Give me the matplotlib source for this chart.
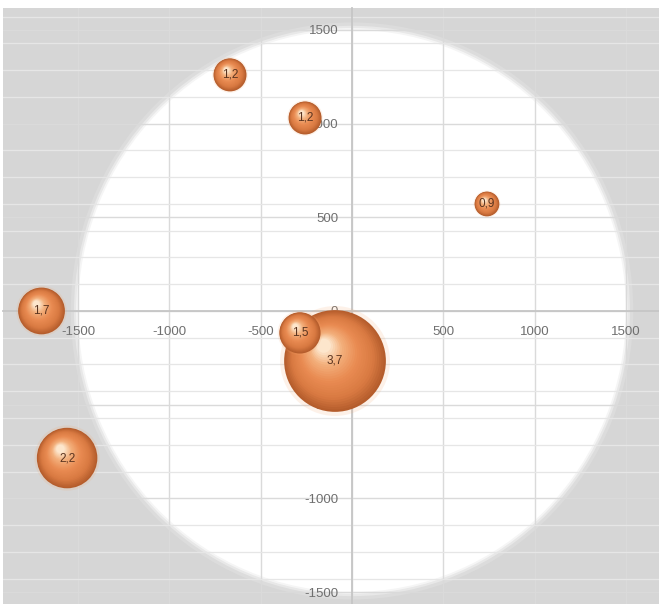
import numpy as np
import matplotlib
matplotlib.use("Agg")
import matplotlib.pyplot as plt
from matplotlib.patches import Circle
from matplotlib.transforms import ScaledTranslation
from matplotlib.colors import LinearSegmentedColormap

plt.rcParams['font.family'] = ['Liberation Sans', 'DejaVu Sans']
plt.rcParams['axes.unicode_minus'] = False

# ---- data ----
x_vals = [-668, -257, 739, -1700, -285, -93, -1560]
y_vals = [1260, 1030, 571, 0, -117, -267, -785]
bubble_sizes = [1.2, 1.2, 0.9, 1.7, 1.5, 3.7, 2.2]
bubble_labels = ["1,2", "1,2", "0,9", "1,7", "1,5", "3,7", "2,2"]
x_ticks = [-1500, -1000, -500, 0, 500, 1000, 1500]
y_ticks = [-1500, -1000, -500, 0, 500, 1000, 1500]
disc_radius = 1500

fig = plt.figure(figsize=(6.59, 6.04), dpi=100)
fig.patch.set_facecolor('white')
ax = fig.add_axes([3 / 659, 0, 656 / 659, 596 / 604])
ax.set_facecolor('#d6d6d6')
ax.set_xlim(-1911, 1681)
ax.set_ylim(-1564, 1617)

# white disc with soft edge
for extra, a in [(40, 0.15), (22, 0.35), (10, 0.6)]:
    ax.add_patch(Circle((0, 0), disc_radius + extra, facecolor='white',
                        edgecolor='none', alpha=a, zorder=0.1))
ax.add_patch(Circle((0, 0), disc_radius, facecolor='white', edgecolor='none', zorder=0.2))

# axes, ticks, grid
ax.set_axisbelow(True)
ax.set_xticks(x_ticks)
ax.set_yticks(y_ticks)
minor_step = 1000 / 7
ax.set_yticks(np.arange(-10, 12) * minor_step, minor=True)
ax.tick_params(which='both', length=0)
ax.tick_params(axis='x', labelsize=9.5, labelcolor='#6f6f6f', pad=11)
ax.tick_params(axis='y', labelsize=9.5, labelcolor='#6f6f6f', pad=10)
ax.grid(which='major', color='#dadada', lw=1.0)
ax.grid(which='minor', axis='y', color='#e6e6e6', lw=0.9)
for side in ['top', 'right']:
    ax.spines[side].set_visible(False)
for side in ['left', 'bottom']:
    ax.spines[side].set_position(('data', 0))
    ax.spines[side].set_color('#c6c6c6')
    ax.spines[side].set_linewidth(1.3)
    ax.spines[side].set_zorder(0.6)

# bubbles (3D shaded look)
cmap = LinearSegmentedColormap.from_list(
    'sph', [(0.0, '#b55d2c'), (0.22, '#d97a42'), (0.5, '#e98b52'),
            (0.78, '#f3b07c'), (1.0, '#fde6cc')])
px_per_value = 27.5
order = np.argsort(bubble_sizes, kind='stable')[::-1]
n_layers = 26
for rank, i in enumerate(order):
    x, y, v, lab = x_vals[i], y_vals[i], bubble_sizes[i], bubble_labels[i]
    z = 3 + rank
    diam_pt = 0.72 * px_per_value * v
    r_in = diam_pt / 2 / 72
    ax.scatter([x], [y], s=(diam_pt * 1.08) ** 2, color='#f3a46a', alpha=0.15,
               edgecolors='none', zorder=z)
    for j in range(n_layers):
        t = j / (n_layers - 1)
        f = 1 - 0.86 * t
        dx = -0.22 * r_in * t
        dy = 0.30 * r_in * t
        tr = ax.transData + ScaledTranslation(dx, dy, fig.dpi_scale_trans)
        ax.scatter([x], [y], s=(diam_pt * f) ** 2, color=cmap(t), edgecolors='none',
                   transform=tr, zorder=z + 0.01 * j)
    ax.text(x, y, lab, ha='center', va='center', fontsize=8.5, color='#5a3420',
            zorder=z + 0.5)

fig.savefig('out.png', dpi=100)
